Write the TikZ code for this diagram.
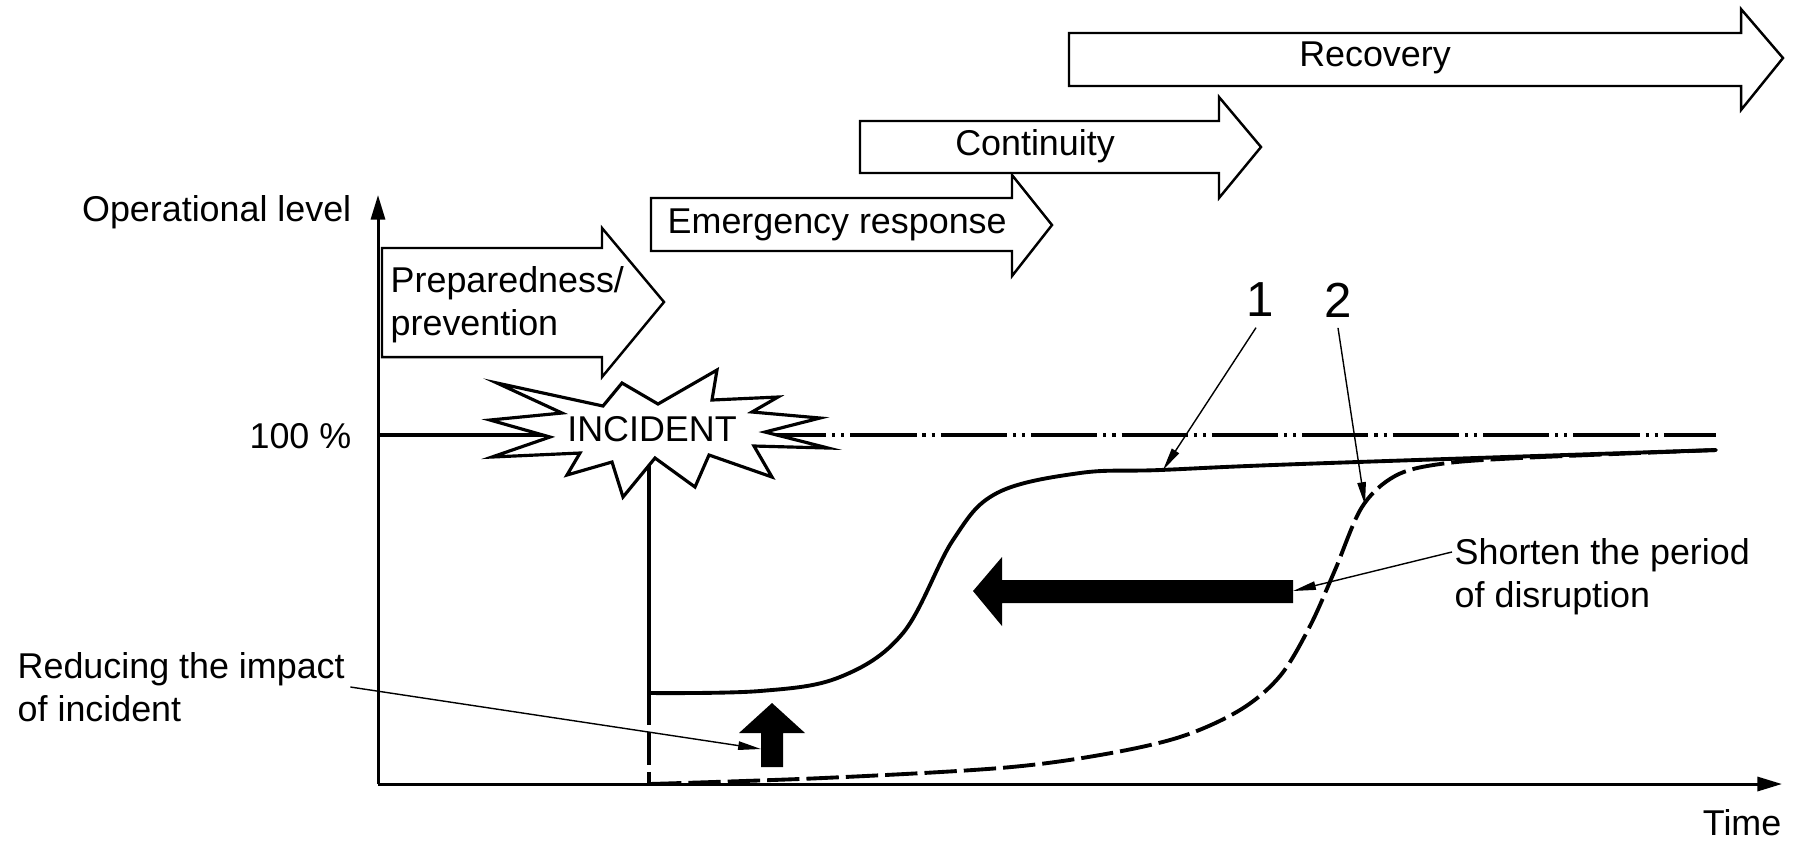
\documentclass[tikz,border=0pt]{standalone}
\usepackage{fontspec}
\setmainfont{Liberation Sans}
\usetikzlibrary{arrows.meta}

\begin{document}
\begin{tikzpicture}[x=0.01cm, y=-0.01cm,
  every node/.style={inner sep=0pt, font=\fontsize{10.2}{12.3}\selectfont},
  axis/.style={line width=0.85pt, -{Triangle[length=7pt,width=4pt]}},
  phase/.style={draw, fill=white, line width=0.7pt},
  curve/.style={line width=1.1pt, line cap=round},
  broken/.style={line width=1.1pt, dash pattern=on 9.2pt off 2pt},
  level/.style={line width=1.1pt, dash pattern=on 18.8pt off 1.7pt on 0.9pt off 1.7pt on 0.9pt off 1.7pt},
  leader/.style={line width=0.4pt, -{Triangle[length=6.5pt,width=2.4pt]}},
  callout/.style={font=\fontsize{14}{16}\selectfont}]

\useasboundingbox (0,0) rectangle (1797,841);

% axes
\coordinate (O) at (378,784);
\coordinate (ytop) at (378,195);
\coordinate (xend) at (1782,784);
\draw[axis] (O) -- (ytop);
\draw[axis] (O) -- (xend);

\node[anchor=east] (ylabel) at (352,212) {Operational level};
\node[anchor=east] (hundred) at (352,436) {100 \%};
\node[anchor=east] (time) at (1782,823) {Time};

% 100 % level
\draw[line width=1.1pt] (378,435) -- (600,435);
\draw[level] (760,435) -- (1716,435);

% incident line
\draw[curve] (649,460) -- (649,693);
\draw[broken] (649,693) -- (649,784);

% curve 1
\draw[curve] plot[smooth, tension=0.6] coordinates {(649,693) (760,691) (840,677) (903,633) (953,540) (997,493) (1080,473) (1160,470) (1300,464) (1716,450)};

% curve 2
\draw[broken] plot[smooth, tension=0.55] coordinates {(649,784) (823,778) (1000,768) (1100,755) (1180,737) (1240,710) (1280,676) (1310,626) (1335,570) (1362,507) (1395,476) (1440,464) (1520,458) (1716,450)};

% starburst
\draw[fill=white, line width=0.9pt] (497,383) -- (603,406) -- (622,383) -- (658,404) -- (717,370) -- (712,400)
  -- (778,397) -- (752,412) -- (820,418) -- (765,432) -- (828,448) -- (754,446) -- (772,477)
  -- (709,455) -- (695,487) -- (655,458) -- (623,497) -- (612,462) -- (567,475) -- (580,453)
  -- (492,457) -- (550,437) -- (490,420) -- (562,413) -- cycle;
\node (incident) at (652,429) {INCIDENT};

% phases
\draw[phase] (1069,33) -- (1741,33) -- (1741,9) -- (1783,58) -- (1741,110) -- (1741,86) -- (1069,86) -- cycle;
\draw[phase] (860,121) -- (1219,121) -- (1219,97) -- (1261,147) -- (1219,198) -- (1219,173) -- (860,173) -- cycle;
\draw[phase] (651,198) -- (1012,198) -- (1012,175) -- (1052,225) -- (1012,276) -- (1012,251) -- (651,251) -- cycle;
\draw[phase] (382,248) -- (602,248) -- (602,228) -- (664,302) -- (602,377) -- (602,357) -- (382,357) -- cycle;

\node (recovery) at (1375,58) {Recovery};
\node (continuity) at (1035,146) {Continuity};
\node[anchor=west] (emergency) at (667,225) {Emergency response};
\node[anchor=west, align=left] (prepare) at (390,305) {Preparedness/\\prevention};

% big arrows
\fill (973,591) -- (1002,557) -- (1002,580) -- (1293,580) -- (1293,603) -- (1002,603) -- (1002,626) -- cycle;
\fill (772,703) -- (805,733) -- (783,733) -- (783,767) -- (761,767) -- (761,733) -- (739,733) -- cycle;

\coordinate (tip1) at (1163,470);
\coordinate (tip2) at (1365,505);
\coordinate (shaftend) at (1293,591);
\coordinate (upleft) at (761,749);

% labels and leaders
\node[callout] (one) at (1260,300) {1};
\node[callout] (two) at (1338,300) {2};
\node[anchor=west, align=left] (reduce) at (17,687) {Reducing the impact\\of incident};
\node[anchor=west, align=left] (shorten) at (1454,577) {Shorten the period\\of disruption};

\draw[leader] ([shift={(-4,10)}]one.south) -- (tip1);
\draw[leader] ([shift={(0,10)}]two.south) -- (tip2);
\draw[leader] ([shift={(5,0)}]reduce.east) -- (upleft);
\draw[leader] ([shift={(-2,14)}]shorten.north west) -- (shaftend);

\end{tikzpicture}
\end{document}
